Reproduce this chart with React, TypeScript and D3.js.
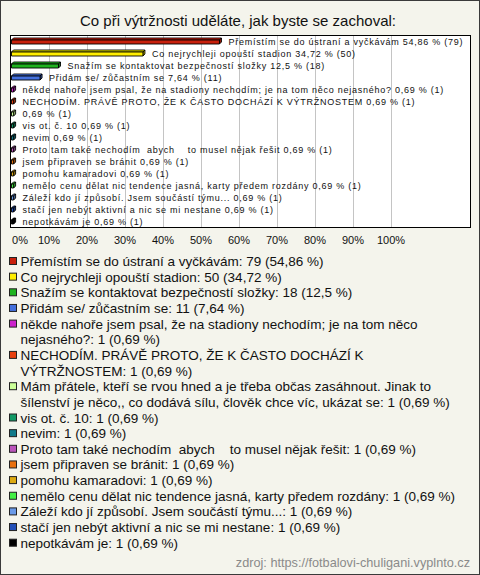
import React, { useMemo } from 'react';
import * as d3 from 'd3';

const TITLE = 'Co při výtržnosti uděláte, jak byste se zachoval:';
const SOURCE = 'zdroj: https://fotbalovi-chuligani.vyplnto.cz';

const categories = [
  'Přemístím se do ústraní a vyčkávám',
  'Co nejrychleji opouští stadion',
  'Snažím se kontaktovat bezpečností složky',
  'Přidám se/ zůčastním se',
  'někde nahoře jsem psal, že na stadiony nechodím; je na tom něco nejasného?',
  'NECHODÍM. PRÁVĚ PROTO, ŽE K ČASTO DOCHÁZÍ K VÝTRŽNOSTEM',
  'Mám přátele, kteří se rvou hned a je třeba občas zasáhnout. Jinak to šílenství je něco,, co dodává sílu, člověk chce víc, ukázat se',
  'vis ot. č. 10',
  'nevim',
  'Proto tam také nechodím  abych    to musel nějak řešit',
  'jsem připraven se bránit',
  'pomohu kamaradovi',
  'nemělo cenu dělat nic tendence jasná, karty předem rozdány',
  'Záleží kdo jí způsobí. Jsem součástí týmu...',
  'stačí jen nebýt aktivní a nic se mi nestane',
  'nepotkávám je',
];
const counts = [79, 50, 18, 11, 1, 1, 1, 1, 1, 1, 1, 1, 1, 1, 1, 1];
const percents = [54.86, 34.72, 12.5, 7.64, 0.69, 0.69, 0.69, 0.69, 0.69, 0.69, 0.69, 0.69, 0.69, 0.69, 0.69, 0.69];
const colors = [
  '#c8200c', '#ffee00', '#1fb31f', '#4470dd', '#cc22cc', '#e8400f', '#ccff99', '#119966',
  '#117a8a', '#bb55bb', '#e8700f', '#ddaa11', '#44ee44', '#6a9ae8', '#2350b8', '#000000',
];
const axisTicks = [0, 10, 20, 30, 40, 50, 60, 70, 80, 90, 100];

const W = 480;
const H = 575;
const FONT = "'Liberation Sans', Arial, sans-serif";
const LEGEND_FS = 13.5;

const fmt = (p: number) => String(p).replace('.', ',');

export default function App() {
  const plot = { left: 10.5, right: 470.5, top: 35.5, bottom: 227.5 };
  const x = d3.scaleLinear().domain([0, 100]).range([11, 391]);
  const y = d3
    .scaleBand<number>()
    .domain(d3.range(categories.length))
    .range([plot.top, plot.bottom]);

  const legendLines = useMemo(() => {
    const canvas = document.createElement('canvas');
    const ctx = canvas.getContext('2d')!;
    ctx.font = `${LEGEND_FS}px ${FONT}`;
    const maxW = 436;
    return categories.map((c, i) => {
      const text = `${c}: ${counts[i]} (${fmt(percents[i])} %)`;
      const words = text.split(' ');
      const lines: string[] = [];
      let cur = '';
      words.forEach((w) => {
        const test = cur === '' ? w : cur + ' ' + w;
        if (cur !== '' && ctx.measureText(test).width > maxW) {
          lines.push(cur);
          cur = w;
        } else cur = test;
      });
      if (cur) lines.push(cur);
      return lines;
    });
  }, []);

  const d = 2;
  let lineIdx = 0;
  const lineH = 15.65;
  const legendBase = 266;

  return (
    <svg width={W} height={H} style={{ position: 'absolute', left: 0, top: 0 }} fontFamily={FONT}>
      <rect x={0.5} y={0.5} width={W - 1} height={H - 1} fill="#f4f4ec" stroke="#3a3a3a" />
      <text x={238} y={26} textAnchor="middle" fontSize={15} fill="#111">
        {TITLE}
      </text>
      <rect x={plot.left} y={plot.top} width={plot.right - plot.left} height={plot.bottom - plot.top} fill="#fff" />
      {axisTicks.filter((t) => t > 0).map((t) => (
        <line key={t} x1={Math.round(x(t)) + 0.5} x2={Math.round(x(t)) + 0.5} y1={plot.top} y2={plot.bottom} stroke="#c4c4c4" />
      ))}
      {categories.map((c, i) => {
        const cy = (y(i) as number) + y.bandwidth() / 2;
        const x0 = x(0) + 0.5;
        const x1 = x(percents[i]);
        const y0 = cy - 1.5;
        const y1 = cy + 2.5;
        const col = d3.color(colors[i])!;
        const top = col.brighter(0.4).toString();
        const side = col.darker(0.8).toString();
        const label = (c.length > 100 ? '' : c + ' ') + `${fmt(percents[i])} % (${counts[i]})`;
        return (
          <g key={i} stroke="#000" strokeWidth={0.9} strokeLinejoin="round">
            <polygon points={`${x0},${y0} ${x0 + d},${y0 - d} ${x1 + d},${y0 - d} ${x1},${y0}`} fill={top} />
            <polygon points={`${x1},${y0} ${x1 + d},${y0 - d} ${x1 + d},${y1 - d} ${x1},${y1}`} fill={side} />
            <rect x={x0} y={y0} width={Math.max(0, x1 - x0)} height={y1 - y0} fill={colors[i]} />
            <text
              x={x1 + d + 7}
              y={cy + 3}
              fontSize={9}
              letterSpacing={0.75}
              stroke="none"
              fill="#111"
              style={{ whiteSpace: 'pre' }}
            >
              {label}
            </text>
          </g>
        );
      })}
      <rect x={plot.left} y={plot.top} width={plot.right - plot.left} height={plot.bottom - plot.top} fill="none" stroke="#000" />
      {axisTicks.map((t) => (
        <text key={t} x={t === 0 ? 12 : x(t)} y={243.5} fontSize={11} textAnchor={t === 0 ? 'start' : 'middle'} fill="#111">
          {t}%
        </text>
      ))}
      {legendLines.map((lines, i) => {
        const first = lineIdx;
        lineIdx += lines.length;
        const by = legendBase + first * lineH;
        return (
          <g key={i}>
            <rect x={9.5} y={by - 8.5} width={7} height={7} fill={colors[i]} stroke="#222" />
            {lines.map((ln, k) => (
              <text key={k} x={20.5} y={by + k * lineH} fontSize={LEGEND_FS} fill="#111" style={{ whiteSpace: 'pre' }}>
                {ln}
              </text>
            ))}
          </g>
        );
      })}
      <text x={470} y={567} textAnchor="end" fontSize={12.7} fill="#8a8a8a">
        {SOURCE}
      </text>
    </svg>
  );
}
